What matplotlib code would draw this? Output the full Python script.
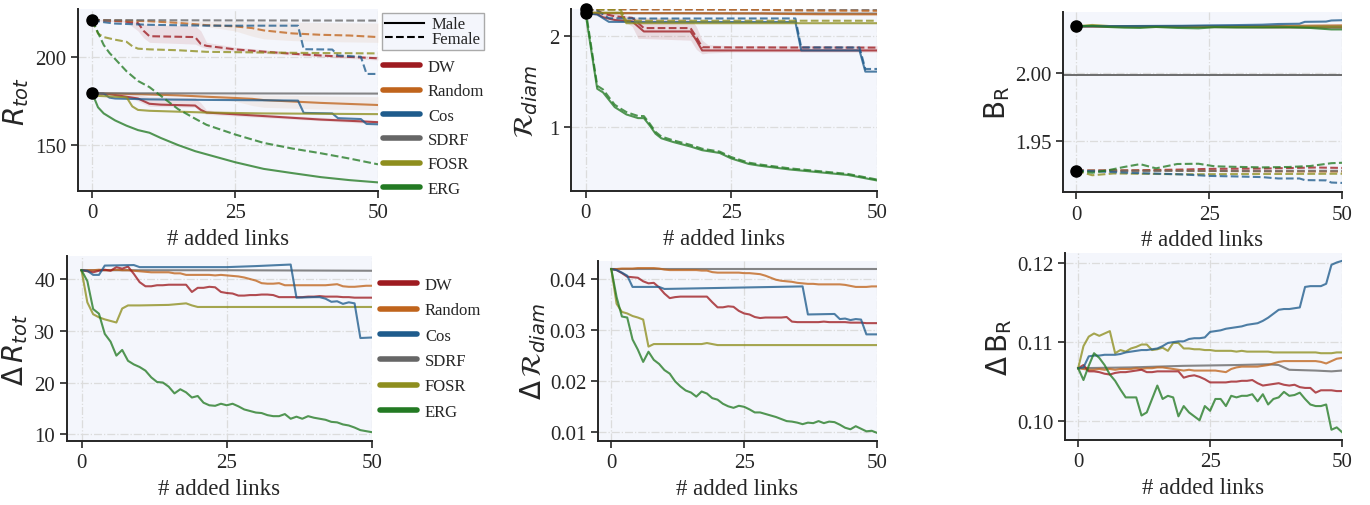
import matplotlib
matplotlib.use('Agg')
import matplotlib.pyplot as plt
from matplotlib.lines import Line2D

# ---------------- data ----------------
methods = ['DW', 'Random', 'Cos', 'SDRF', 'FOSR', 'ERG']
colors = ['#9e1b20', '#c0641c', '#1e5b8c', '#666666', '#8e8e1e', '#237a23']
x_links = list(range(51))

# R_tot (male solid / female dashed)
rtot_m_dw_x = [0, 3, 5, 8, 9, 10, 12, 18, 19, 20, 25, 30, 35, 40, 45, 50]
rtot_m_dw_y = [179.5, 179, 178, 176.5, 175, 173.5, 173, 172.5, 170, 168.5, 167.5, 166.5, 165.5, 164.5, 163.8, 163.0]
rtot_f_dw_x = [0, 5, 8, 9, 10, 18, 19, 20, 25, 30, 35, 40, 45, 50]
rtot_f_dw_y = [221.2, 220.5, 219.5, 215, 212, 211.5, 207.5, 206.5, 204.5, 203.2, 202, 201, 200.2, 199.4]
rtot_m_random_x = [0, 5, 10, 15, 20, 25, 28, 30, 35, 40, 45, 50]
rtot_m_random_y = [179.5, 179.2, 178.8, 178.3, 177.5, 176.8, 176.3, 175.6, 174.8, 174.0, 173.4, 172.8]
rtot_f_random_y = [221.2, 220.9, 220.5, 219.6, 218.3, 217.6, 216.6, 215.3, 213.6, 212.8, 212.4, 211.5]
rtot_m_cos_x = [0, 2, 3, 4, 10, 20, 30, 36, 37, 42, 43, 47, 48, 50]
rtot_m_cos_y = [179.5, 179.3, 177, 176.5, 176, 175.7, 175.5, 175.3, 168.3, 168.0, 165.3, 164.8, 162.0, 161.8]
rtot_f_cos_x = [0, 2, 4, 10, 20, 30, 36, 37, 42, 43, 47, 48, 50]
rtot_f_cos_y = [221.2, 220.0, 219.2, 218.5, 218.0, 218.0, 218.0, 204.6, 204.4, 201.0, 200.3, 190.5, 190.5]
rtot_sdrf_x = [0, 25, 50]
rtot_m_sdrf_y = [179.5, 179.4, 179.3]
rtot_f_sdrf_y = [221.2, 221.0, 220.9]
rtot_m_fosr_x = [0, 1, 6, 7, 8, 10, 15, 20, 30, 40, 50]
rtot_m_fosr_y = [179.5, 178, 177.2, 172, 170, 169.5, 169, 168.5, 168, 167.8, 167.6]
rtot_f_fosr_x = [0, 1, 2, 4, 6, 7, 8, 10, 15, 20, 30, 40, 50]
rtot_f_fosr_y = [221.2, 213.5, 211.5, 210, 208.8, 206.3, 204.9, 204.5, 204, 203.1, 202.7, 202.4, 202.2]
rtot_erg_x = [0, 1, 2, 3, 4, 5, 6, 8, 10, 12, 15, 18, 20, 25, 30, 35, 40, 45, 50]
rtot_m_erg_y = [179.5, 171.5, 168, 166, 164, 162.5, 161, 158.5, 157, 154, 150, 146.5, 144.7, 140.2, 136.4, 134, 131.7, 130, 128.7]
rtot_f_erg_y = [221.2, 214, 207, 202.5, 199, 195.5, 192, 186.5, 183, 178, 170.5, 165, 161.5, 156, 151.2, 148, 145.3, 142.3, 139]
# bands
rtot_f_dw_band_x = [0, 6, 8, 9, 10, 18, 19, 20, 25, 30, 40, 50]
rtot_f_dw_lo = [221, 220, 215, 211, 208.5, 207.5, 206, 205, 203.3, 202.2, 200.2, 198.4]
rtot_f_dw_hi = [221.4, 221, 219.8, 219, 218.5, 218, 215, 208.5, 205.8, 204.3, 202, 200.5]
rtot_f_random_band_x = [0, 10, 20, 25, 28, 30, 35, 40, 50]
rtot_f_random_lo = [221.2, 220.5, 217.5, 215, 212, 210.5, 209.5, 209, 208.5]
rtot_f_random_hi = [221.2, 221, 220.5, 220.5, 220.3, 220.2, 220, 219.8, 219.5]
rtot_m_random_band_x = [0, 10, 20, 25, 28, 30, 35, 40, 50]
rtot_m_random_lo = [179.5, 178.5, 177, 175, 172.5, 171.5, 171, 170.5, 170]
rtot_m_random_hi = [179.5, 179.3, 179, 178.8, 178.7, 178.5, 178.3, 178, 177.5]
rtot_m_dw_band_x = [0, 7, 8, 10, 18, 19, 20, 25, 50]
rtot_m_dw_lo = [179.5, 177, 175, 172, 171.5, 168.5, 167.5, 166.5, 162]
rtot_m_dw_hi = [179.5, 179, 178.5, 177.5, 177, 174, 170, 168.5, 164]

# R_diam
diam_sdrf_x = [0, 50]
diam_m_sdrf_y = [2.245, 2.240]
diam_f_sdrf_y = [2.287, 2.282]
diam_random_x = [0, 10, 20, 30, 33, 36, 40, 50]
diam_m_random_y = [2.245, 2.245, 2.244, 2.242, 2.238, 2.235, 2.233, 2.232]
diam_f_random_y = [2.287, 2.287, 2.285, 2.283, 2.278, 2.274, 2.272, 2.270]
diam_cos_x = [0, 2, 3, 4, 10, 36, 37, 47, 48, 50]
diam_m_cos_y = [2.245, 2.23, 2.19, 2.15, 2.148, 2.148, 1.838, 1.838, 1.607, 1.607]
diam_f_cos_y = [2.287, 2.271, 2.231, 2.189, 2.186, 2.187, 1.871, 1.870, 1.636, 1.636]
diam_dw_x = [0, 2, 3, 5, 7, 8, 9, 10, 18, 19, 20, 25, 30, 35, 50]
diam_m_dw_y = [2.245, 2.235, 2.2, 2.17, 2.16, 2.155, 2.1, 2.045, 2.045, 1.95, 1.838, 1.838, 1.838, 1.838, 1.838]
diam_f_dw_y = [2.287, 2.276, 2.240, 2.210, 2.199, 2.194, 2.138, 2.082, 2.082, 1.986, 1.873, 1.871, 1.871, 1.870, 1.869]
diam_fosr_x = [0, 1, 6, 7, 50]
diam_m_fosr_y = [2.245, 2.25, 2.25, 2.135, 2.135]
diam_f_fosr_y = [2.287, 2.285, 2.282, 2.162, 2.162]
diam_erg_x = [0, 1, 2, 3, 4, 5, 6, 7, 8, 9, 10, 11, 12, 13, 15, 18, 20, 23, 25, 28, 30, 35, 40, 45, 50]
diam_m_erg_y = [2.245, 1.83, 1.42, 1.38, 1.30, 1.22, 1.18, 1.14, 1.12, 1.10, 1.10, 1.02, 0.93, 0.88, 0.84,
                0.79, 0.75, 0.72, 0.66, 0.60, 0.58, 0.54, 0.51, 0.48, 0.42]
diam_f_erg_y = [2.287, 1.866, 1.453, 1.412, 1.328, 1.246, 1.204, 1.166, 1.144, 1.123, 1.122, 1.041, 0.950, 0.899,
                0.858, 0.808, 0.766, 0.735, 0.675, 0.614, 0.593, 0.552, 0.522, 0.491, 0.430]
diam_dw_band_x = [0, 7, 8, 9, 18, 19, 20, 21, 25, 50]
diam_dw_lo = [2.245, 2.14, 2.10, 1.97, 1.95, 1.85, 1.80, 1.81, 1.82, 1.82]
diam_dw_hi = [2.29, 2.22, 2.20, 2.20, 2.19, 2.10, 1.95, 1.90, 1.89, 1.89]
diam_random_band_x = [30, 33, 36, 40, 50]
diam_random_lo = [2.242, 2.23, 2.222, 2.220, 2.218]
diam_random_hi = [2.285, 2.285, 2.285, 2.285, 2.285]

# B_R
br_dw_x = [0, 10, 20, 25, 35, 45, 50]
br_m_dw_y = [2.0345, 2.0343, 2.0341, 2.0340, 2.0338, 2.0337, 2.0336]
br_f_dw_y = [1.9278, 1.9280, 1.9286, 1.9291, 1.9293, 1.9301, 1.9298]
br_random_x = [0, 20, 30, 38, 50]
br_m_random_y = [2.0345, 2.0342, 2.0342, 2.0348, 2.0352]
br_f_random_y = [1.9278, 1.9278, 1.9274, 1.9272, 1.9271]
br_cos_x = [0, 10, 20, 25, 30, 35, 38, 42, 43, 47, 48, 50]
br_m_cos_y = [2.0345, 2.0347, 2.0349, 2.0352, 2.0354, 2.0357, 2.0362, 2.0364, 2.0378, 2.0380, 2.0388, 2.0390]
br_f_cos_y = [1.9278, 1.9262, 1.9250, 1.9239, 1.9235, 1.9230, 1.9220, 1.9220, 1.9208, 1.9206, 1.9190, 1.9187]
br_sdrf_x = [0, 20, 38, 40, 50]
br_m_sdrf_y = [2.0345, 2.0346, 2.0347, 2.0341, 2.0342]
br_f_sdrf_y = [1.9278, 1.9276, 1.9275, 1.9277, 1.9277]
br_fosr_x = [0, 3, 7, 20, 50]
br_m_fosr_y = [2.0345, 2.0355, 2.0345, 2.0343, 2.0342]
br_f_fosr_y = [1.9278, 1.9244, 1.9257, 1.9251, 1.9255]
br_erg_x = [0, 3, 6, 9, 12, 15, 19, 23, 26, 30, 35, 40, 44, 48, 50]
br_m_erg_y = [2.0345, 2.0348, 2.0340, 2.0335, 2.0333, 2.0340, 2.0333, 2.0330, 2.0338, 2.0336, 2.0336, 2.0337, 2.0333, 2.0322, 2.0322]
br_f_erg_y = [1.9278, 1.9262, 1.9281, 1.9305, 1.9326, 1.9295, 1.9327, 1.9329, 1.9310, 1.9306, 1.9302, 1.9305, 1.9312, 1.9333, 1.9336]
br_ref = 1.9985

# Delta R_tot
drtot_dw = [41.7, 41.5, 41.3, 41.6, 41.8, 41.6, 42.3, 42.0, 42.4, 41.0,
            39.4, 38.6, 38.6, 38.8, 38.8, 38.9, 38.9, 38.9, 38.9, 37.5,
            38.3, 38.3, 38.5, 38.4, 37.5, 37.3, 37.2, 36.8, 36.8, 36.9,
            36.9, 37.0, 37.0, 36.9, 36.5, 36.5, 36.5, 36.5, 36.5, 36.6,
            36.6, 36.7, 36.6, 36.6, 36.6, 36.5, 36.5, 36.4, 36.4, 36.4, 36.4]
drtot_random = [41.7, 41.7, 41.7, 41.8, 41.7, 41.7, 41.8, 41.7, 41.7, 41.6,
                41.5, 41.4, 41.3, 41.3, 41.3, 41.3, 41.1, 41.1, 40.8, 40.8,
                40.8, 40.8, 40.8, 40.7, 40.8, 40.7, 40.6, 40.5, 40.3, 40.0,
                39.7, 39.2, 39.1, 39.1, 39.2, 38.8, 38.8, 38.8, 38.8, 38.8,
                38.8, 38.8, 38.8, 38.9, 39.0, 38.6, 38.5, 38.5, 38.6, 38.7, 38.7]
drtot_cos_x = [0, 1, 2, 3, 4, 9, 10, 25, 30, 36, 37, 40, 41, 42, 43, 44, 45, 46, 47, 48, 50]
drtot_cos_y = [41.7, 41.6, 40.8, 40.8, 42.6, 42.7, 42.3, 42.3, 42.5, 42.8, 36.4, 36.5, 36.5, 36.2, 35.6,
               35.7, 35.2, 35.5, 35.3, 28.6, 28.7]
drtot_sdrf_x = [0, 25, 50]
drtot_sdrf_y = [41.7, 41.7, 41.6]
drtot_fosr_x = [0, 1, 2, 3, 4, 5, 6, 7, 8, 10, 15, 16, 17, 18, 19, 20, 50]
drtot_fosr_y = [41.7, 35.5, 33.2, 32.6, 32.2, 31.9, 31.6, 34.3, 34.9, 34.9, 35.0, 35.1, 35.2, 35.3, 34.9, 34.6, 34.6]
drtot_erg = [41.7, 39.6, 34.2, 33.3, 29.4, 27.9, 25.2, 26.3, 24.2, 23.5,
             23.0, 22.3, 21.0, 20.1, 20.0, 19.2, 17.9, 18.7, 18.1, 17.1,
             17.4, 16.1, 15.6, 15.5, 15.9, 15.6, 15.9, 15.4, 14.8, 14.5,
             14.2, 14.1, 13.7, 13.5, 13.5, 13.9, 13.0, 13.4, 13.0, 13.5,
             13.2, 13.0, 12.8, 12.4, 12.3, 11.9, 11.7, 11.3, 10.8, 10.6, 10.4]

# Delta R_diam
ddiam_dw = [0.0420, 0.0418, 0.0412, 0.0405, 0.0404, 0.0403, 0.0396, 0.0392, 0.0393, 0.0384,
            0.0372, 0.0363, 0.0365, 0.0366, 0.0366, 0.0366, 0.0366, 0.0366, 0.0366, 0.0355,
            0.0345, 0.0345, 0.0347, 0.0346, 0.0338, 0.0333, 0.0331, 0.0326, 0.0324, 0.0325,
            0.0325, 0.0325, 0.0325, 0.0326, 0.0317, 0.0316, 0.0316, 0.0316, 0.0316, 0.0316,
            0.0317, 0.0316, 0.0316, 0.0316, 0.0316, 0.0315, 0.0315, 0.0315, 0.0314, 0.0314, 0.0314]
ddiam_random = [0.0420, 0.0420, 0.0421, 0.0421, 0.0421, 0.0422, 0.0422, 0.0422, 0.0422, 0.0421,
                0.0419, 0.0418, 0.0418, 0.0418, 0.0418, 0.0418, 0.0418, 0.0417, 0.0417, 0.0414,
                0.0413, 0.0413, 0.0413, 0.0413, 0.0413, 0.0412, 0.0412, 0.0411, 0.0410, 0.0407,
                0.0403, 0.0399, 0.0397, 0.0396, 0.0395, 0.0393, 0.0392, 0.0391, 0.0391, 0.0390,
                0.0390, 0.0390, 0.0390, 0.0390, 0.0389, 0.0387, 0.0385, 0.0385, 0.0385, 0.0386, 0.0386]
ddiam_cos_x = [0, 1, 2, 3, 4, 9, 10, 36, 37, 42, 43, 44, 45, 46, 47, 48, 50]
ddiam_cos_y = [0.0420, 0.0418, 0.0413, 0.0407, 0.0385, 0.0385, 0.0381, 0.0386, 0.0331, 0.0332, 0.0322,
               0.0323, 0.0320, 0.0322, 0.0321, 0.0292, 0.0292]
ddiam_sdrf_x = [0, 50]
ddiam_sdrf_y = [0.0420, 0.0420]
ddiam_fosr_x = [0, 1, 2, 3, 4, 5, 6, 7, 8, 17, 18, 20, 50]
ddiam_fosr_y = [0.0420, 0.0352, 0.0336, 0.0333, 0.0328, 0.0325, 0.0321, 0.0268, 0.0273, 0.0273, 0.0275, 0.0271, 0.0271]
ddiam_erg = [0.0420, 0.0365, 0.0327, 0.0325, 0.0282, 0.0262, 0.0238, 0.0258, 0.0242, 0.0234,
             0.0222, 0.0215, 0.0200, 0.0190, 0.0182, 0.0178, 0.0170, 0.0180, 0.0176, 0.0167,
             0.0164, 0.0156, 0.0151, 0.0148, 0.0152, 0.0150, 0.0145, 0.0139, 0.0139, 0.0136,
             0.0133, 0.0130, 0.0126, 0.0122, 0.0121, 0.0119, 0.0116, 0.0119, 0.0118, 0.0122,
             0.0118, 0.0121, 0.0120, 0.0115, 0.0109, 0.0106, 0.0112, 0.0107, 0.0102, 0.0103, 0.0099]

# Delta B_R
dbr_dw = [0.1067, 0.1071, 0.1063, 0.1063, 0.1062, 0.1060, 0.1059, 0.1061, 0.1062, 0.1062,
          0.1063, 0.1064, 0.1065, 0.1062, 0.1062, 0.1063, 0.1063, 0.1063, 0.1063, 0.1063,
          0.1055, 0.1057, 0.1058, 0.1056, 0.1053, 0.1049, 0.1049, 0.1049, 0.1049, 0.1050,
          0.1050, 0.1051, 0.1051, 0.1052, 0.1048, 0.1045, 0.1046, 0.1047, 0.1048, 0.1046,
          0.1045, 0.1046, 0.1043, 0.1042, 0.1042, 0.1036, 0.1039, 0.1039, 0.1039, 0.1038, 0.1038]
dbr_random = [0.1067, 0.1066, 0.1065, 0.1065, 0.1066, 0.1065, 0.1066, 0.1065, 0.1066, 0.1066,
              0.1066, 0.1067, 0.1066, 0.1067, 0.1067, 0.1068, 0.1068, 0.1067, 0.1066, 0.1065,
              0.1064, 0.1065, 0.1064, 0.1064, 0.1064, 0.1064, 0.1064, 0.1063, 0.1062, 0.1066,
              0.1068, 0.1069, 0.1069, 0.1069, 0.1069, 0.1070, 0.1071, 0.1073, 0.1075, 0.1076,
              0.1076, 0.1076, 0.1076, 0.1076, 0.1076, 0.1076, 0.1075, 0.1073, 0.1076, 0.1079, 0.1080]
dbr_cos = [0.1067, 0.1068, 0.1082, 0.1083, 0.1083, 0.1084, 0.1084, 0.1084, 0.1085, 0.1087,
           0.1088, 0.1089, 0.1090, 0.1090, 0.1091, 0.1092, 0.1095, 0.1099, 0.1100, 0.1101,
           0.1101, 0.1104, 0.1105, 0.1105, 0.1106, 0.1113, 0.1114, 0.1115, 0.1117, 0.1118,
           0.1119, 0.1120, 0.1122, 0.1123, 0.1124, 0.1127, 0.1131, 0.1136, 0.1141, 0.1142,
           0.1142, 0.1143, 0.1144, 0.1170, 0.1171, 0.1171, 0.1171, 0.1174, 0.1198, 0.1201, 0.1203]
dbr_sdrf_x = [0, 10, 20, 30, 36, 38, 40, 45, 48, 50]
dbr_sdrf_y = [0.1067, 0.1068, 0.1070, 0.1071, 0.1072, 0.1071, 0.1065, 0.1064, 0.1063, 0.1064]
dbr_fosr = [0.1067, 0.1095, 0.1107, 0.1111, 0.1108, 0.1111, 0.1114, 0.1086, 0.1090, 0.1088,
            0.1092, 0.1094, 0.1097, 0.1097, 0.1090, 0.1091, 0.1093, 0.1089, 0.1099, 0.1099,
            0.1092, 0.1092, 0.1091, 0.1091, 0.1090, 0.1090, 0.1089, 0.1089, 0.1089, 0.1089,
            0.1088, 0.1089, 0.1088, 0.1088, 0.1088, 0.1088, 0.1088, 0.1087, 0.1087, 0.1087,
            0.1087, 0.1087, 0.1087, 0.1087, 0.1087, 0.1087, 0.1086, 0.1086, 0.1086, 0.1087, 0.1087]
dbr_erg = [0.1067, 0.1052, 0.1070, 0.1086, 0.1080, 0.1071, 0.1059, 0.1051, 0.1040, 0.1030,
           0.1030, 0.1030, 0.1007, 0.1011, 0.1028, 0.1045, 0.1028, 0.1032, 0.1030, 0.1006,
           0.1019, 0.1011, 0.1006, 0.1001, 0.1019, 0.1013, 0.1028, 0.1028, 0.1019, 0.1032,
           0.1030, 0.1032, 0.1032, 0.1034, 0.1025, 0.1034, 0.1021, 0.1028, 0.1030, 0.1037,
           0.1032, 0.1033, 0.1036, 0.1028, 0.1021, 0.1019, 0.1019, 0.1021, 0.0989, 0.0992, 0.0986]

# ---------------- style ----------------
INK = '#262626'
plt.rcParams.update({
    'font.family': ['Liberation Serif', 'DejaVu Serif'],
    'mathtext.fontset': 'dejavusans',
    'axes.edgecolor': INK, 'axes.linewidth': 1.4,
    'axes.labelcolor': INK, 'text.color': INK,
    'xtick.color': INK, 'ytick.color': INK,
    'xtick.major.size': 5, 'ytick.major.size': 5,
    'xtick.major.width': 1.2, 'ytick.major.width': 1.2,
    'xtick.major.pad': 4, 'ytick.major.pad': 3.5,
    'xtick.labelsize': 15, 'ytick.labelsize': 15,
    'axes.facecolor': '#f4f6fc',
})

fig = plt.figure(figsize=(13.7, 5.06), dpi=100)
W, H = 1370.0, 506.0


def make_ax(l, r, t, b):
    return fig.add_axes([l / W, 1 - b / H, (r - l) / W, (b - t) / H])


ax1 = make_ax(78, 378, 10, 192)
ax2 = make_ax(571, 877, 10, 192)
ax3 = make_ax(1063, 1342, 12.7, 193)
ax4 = make_ax(67, 372, 257, 442)
ax5 = make_ax(598, 877, 262, 442)
ax6 = make_ax(1065, 1342, 254, 441)

LW = 1.5
AL = 0.78
YL = 20
c = dict(zip(methods, colors))

for ax in [ax1, ax2, ax3, ax4, ax5, ax6]:
    ax.grid(True, linestyle='-.', color='#dcdcdc', linewidth=0.9)
    ax.set_axisbelow(True)
    for s in ['top', 'right']:
        ax.spines[s].set_visible(False)
    ax.set_xlim(-2.5, 50)
    ax.set_xticks([0, 25, 50])
    ax.set_xlabel('# added links', fontsize=16.5, labelpad=4)


def pair(ax, xm, ym, xf, yf, col):
    ax.plot(xm, ym, color=col, lw=LW, alpha=AL, ls='-')
    ax.plot(xf, yf, color=col, lw=LW, alpha=AL, ls='--')


# ---- panel 1 ----
ax1.fill_between(rtot_f_dw_band_x, rtot_f_dw_lo, rtot_f_dw_hi, color=c['DW'], alpha=0.1, lw=0)
ax1.fill_between(rtot_f_random_band_x, rtot_f_random_lo, rtot_f_random_hi, color=c['Random'], alpha=0.08, lw=0)
ax1.fill_between(rtot_m_random_band_x, rtot_m_random_lo, rtot_m_random_hi, color=c['Random'], alpha=0.08, lw=0)
ax1.fill_between(rtot_m_dw_band_x, rtot_m_dw_lo, rtot_m_dw_hi, color=c['DW'], alpha=0.1, lw=0)
pair(ax1, rtot_m_dw_x, rtot_m_dw_y, rtot_f_dw_x, rtot_f_dw_y, c['DW'])
pair(ax1, rtot_m_random_x, rtot_m_random_y, rtot_m_random_x, rtot_f_random_y, c['Random'])
pair(ax1, rtot_m_cos_x, rtot_m_cos_y, rtot_f_cos_x, rtot_f_cos_y, c['Cos'])
pair(ax1, rtot_sdrf_x, rtot_m_sdrf_y, rtot_sdrf_x, rtot_f_sdrf_y, c['SDRF'])
pair(ax1, rtot_m_fosr_x, rtot_m_fosr_y, rtot_f_fosr_x, rtot_f_fosr_y, c['FOSR'])
pair(ax1, rtot_erg_x, rtot_m_erg_y, rtot_erg_x, rtot_f_erg_y, c['ERG'])
ax1.plot([0, 0], [rtot_m_dw_y[0], rtot_f_dw_y[0]], 'o', color='black', ms=8, ls='none', zorder=10, clip_on=False)
ax1.set_ylim(123.8, 227.5)
ax1.set_yticks([150, 200])
ax1.set_ylabel(r'$R_{tot}$', fontsize=YL, labelpad=3)

# ---- panel 2 ----
ax2.fill_between(diam_dw_band_x, diam_dw_lo, diam_dw_hi, color=c['DW'], alpha=0.12, lw=0)
ax2.fill_between(diam_random_band_x, diam_random_lo, diam_random_hi, color=c['Random'], alpha=0.08, lw=0)
pair(ax2, diam_sdrf_x, diam_m_sdrf_y, diam_sdrf_x, diam_f_sdrf_y, c['SDRF'])
pair(ax2, diam_random_x, diam_m_random_y, diam_random_x, diam_f_random_y, c['Random'])
pair(ax2, diam_dw_x, diam_m_dw_y, diam_dw_x, diam_f_dw_y, c['DW'])
pair(ax2, diam_cos_x, diam_m_cos_y, diam_cos_x, diam_f_cos_y, c['Cos'])
pair(ax2, diam_fosr_x, diam_m_fosr_y, diam_fosr_x, diam_f_fosr_y, c['FOSR'])
pair(ax2, diam_erg_x, diam_m_erg_y, diam_erg_x, diam_f_erg_y, c['ERG'])
ax2.plot([0, 0], [diam_m_dw_y[0], diam_f_dw_y[0]], 'o', color='black', ms=8, ls='none', zorder=10, clip_on=False)
ax2.set_ylim(0.305, 2.29)
ax2.set_yticks([1, 2])
ax2.set_ylabel(r'$\mathcal{R}_{diam}$', fontsize=YL, labelpad=6)

# ---- panel 3 ----
ax3.axhline(br_ref, color='#555555', lw=1.2, zorder=1)
pair(ax3, br_dw_x, br_m_dw_y, br_dw_x, br_f_dw_y, c['DW'])
pair(ax3, br_random_x, br_m_random_y, br_random_x, br_f_random_y, c['Random'])
pair(ax3, br_sdrf_x, br_m_sdrf_y, br_sdrf_x, br_f_sdrf_y, c['SDRF'])
pair(ax3, br_fosr_x, br_m_fosr_y, br_fosr_x, br_f_fosr_y, c['FOSR'])
pair(ax3, br_cos_x, br_m_cos_y, br_cos_x, br_f_cos_y, c['Cos'])
pair(ax3, br_erg_x, br_m_erg_y, br_erg_x, br_f_erg_y, c['ERG'])
ax3.plot([0, 0], [br_m_dw_y[0], br_f_dw_y[0]], 'o', color='black', ms=8, ls='none', zorder=10, clip_on=False)
ax3.set_ylim(1.912, 2.0453)
ax3.set_yticks([1.95, 2.00])
ax3.set_yticklabels(['1.95', '2.00'])
ax3.set_ylabel(r'$\mathrm{B_R}$', fontsize=YL, labelpad=2)

# ---- panel 4 ----
ax4.plot(drtot_sdrf_x, drtot_sdrf_y, color=c['SDRF'], lw=LW, alpha=AL)
ax4.plot(x_links, drtot_random, color=c['Random'], lw=LW, alpha=AL)
ax4.plot(x_links, drtot_dw, color=c['DW'], lw=LW, alpha=AL)
ax4.plot(drtot_fosr_x, drtot_fosr_y, color=c['FOSR'], lw=LW, alpha=AL)
ax4.plot(drtot_cos_x, drtot_cos_y, color=c['Cos'], lw=LW, alpha=AL)
ax4.plot(x_links, drtot_erg, color=c['ERG'], lw=LW, alpha=AL)
ax4.set_ylim(8.7, 44.45)
ax4.set_yticks([10, 20, 30, 40])
ax4.set_ylabel(r'$\Delta\,R_{tot}$', fontsize=YL, labelpad=3)

# ---- panel 5 ----
ax5.plot(ddiam_sdrf_x, ddiam_sdrf_y, color=c['SDRF'], lw=LW, alpha=AL)
ax5.plot(x_links, ddiam_random, color=c['Random'], lw=LW, alpha=AL)
ax5.plot(x_links, ddiam_dw, color=c['DW'], lw=LW, alpha=AL)
ax5.plot(ddiam_cos_x, ddiam_cos_y, color=c['Cos'], lw=LW, alpha=AL)
ax5.plot(ddiam_fosr_x, ddiam_fosr_y, color=c['FOSR'], lw=LW, alpha=AL)
ax5.plot(x_links, ddiam_erg, color=c['ERG'], lw=LW, alpha=AL)
ax5.set_ylim(0.0083, 0.04358)
ax5.set_yticks([0.01, 0.02, 0.03, 0.04])
ax5.set_yticklabels(['0.01', '0.02', '0.03', '0.04'])
ax5.set_ylabel(r'$\Delta\,\mathcal{R}_{diam}$', fontsize=YL, labelpad=1)

# ---- panel 6 ----
ax6.plot(dbr_sdrf_x, dbr_sdrf_y, color=c['SDRF'], lw=LW, alpha=AL)
ax6.plot(x_links, dbr_random, color=c['Random'], lw=LW, alpha=AL)
ax6.plot(x_links, dbr_dw, color=c['DW'], lw=LW, alpha=AL)
ax6.plot(x_links, dbr_fosr, color=c['FOSR'], lw=LW, alpha=AL)
ax6.plot(x_links, dbr_cos, color=c['Cos'], lw=LW, alpha=AL)
ax6.plot(x_links, dbr_erg, color=c['ERG'], lw=LW, alpha=AL)
ax6.set_ylim(0.0976, 0.1213)
ax6.set_yticks([0.10, 0.11, 0.12])
ax6.set_yticklabels(['0.10', '0.11', '0.12'])
ax6.set_ylabel(r'$\Delta\,\mathrm{B_R}$', fontsize=YL, labelpad=2)

# ---- legends ----
sex_handles = [Line2D([], [], color='black', lw=1.5, ls='-'),
               Line2D([], [], color='black', lw=1.5, ls='--')]
fig.legend(sex_handles, ['Male', 'Female'], loc='upper left',
           bbox_to_anchor=(382 / W, 1 - 14 / H), fontsize=12,
           frameon=True, fancybox=False, edgecolor='#aaaaaa', framealpha=1,
           borderpad=0.2, borderaxespad=0, handlelength=2.3, handletextpad=0.5,
           labelspacing=-0.1)

meth_handles = [Line2D([], [], color=col, lw=4, solid_capstyle='round') for col in colors]
fig.legend(meth_handles, methods, loc='upper left', bbox_to_anchor=(383 / W, 1 - 60 / H),
           fontsize=12, frameon=False, borderpad=0, borderaxespad=0,
           handlelength=2.2, handletextpad=0.5, labelspacing=0.5)
fig.legend(meth_handles, methods, loc='upper left', bbox_to_anchor=(380 / W, 1 - 278 / H),
           fontsize=12, frameon=False, borderpad=0, borderaxespad=0,
           handlelength=2.2, handletextpad=0.5, labelspacing=0.56)

fig.savefig('out.png', dpi=100)
